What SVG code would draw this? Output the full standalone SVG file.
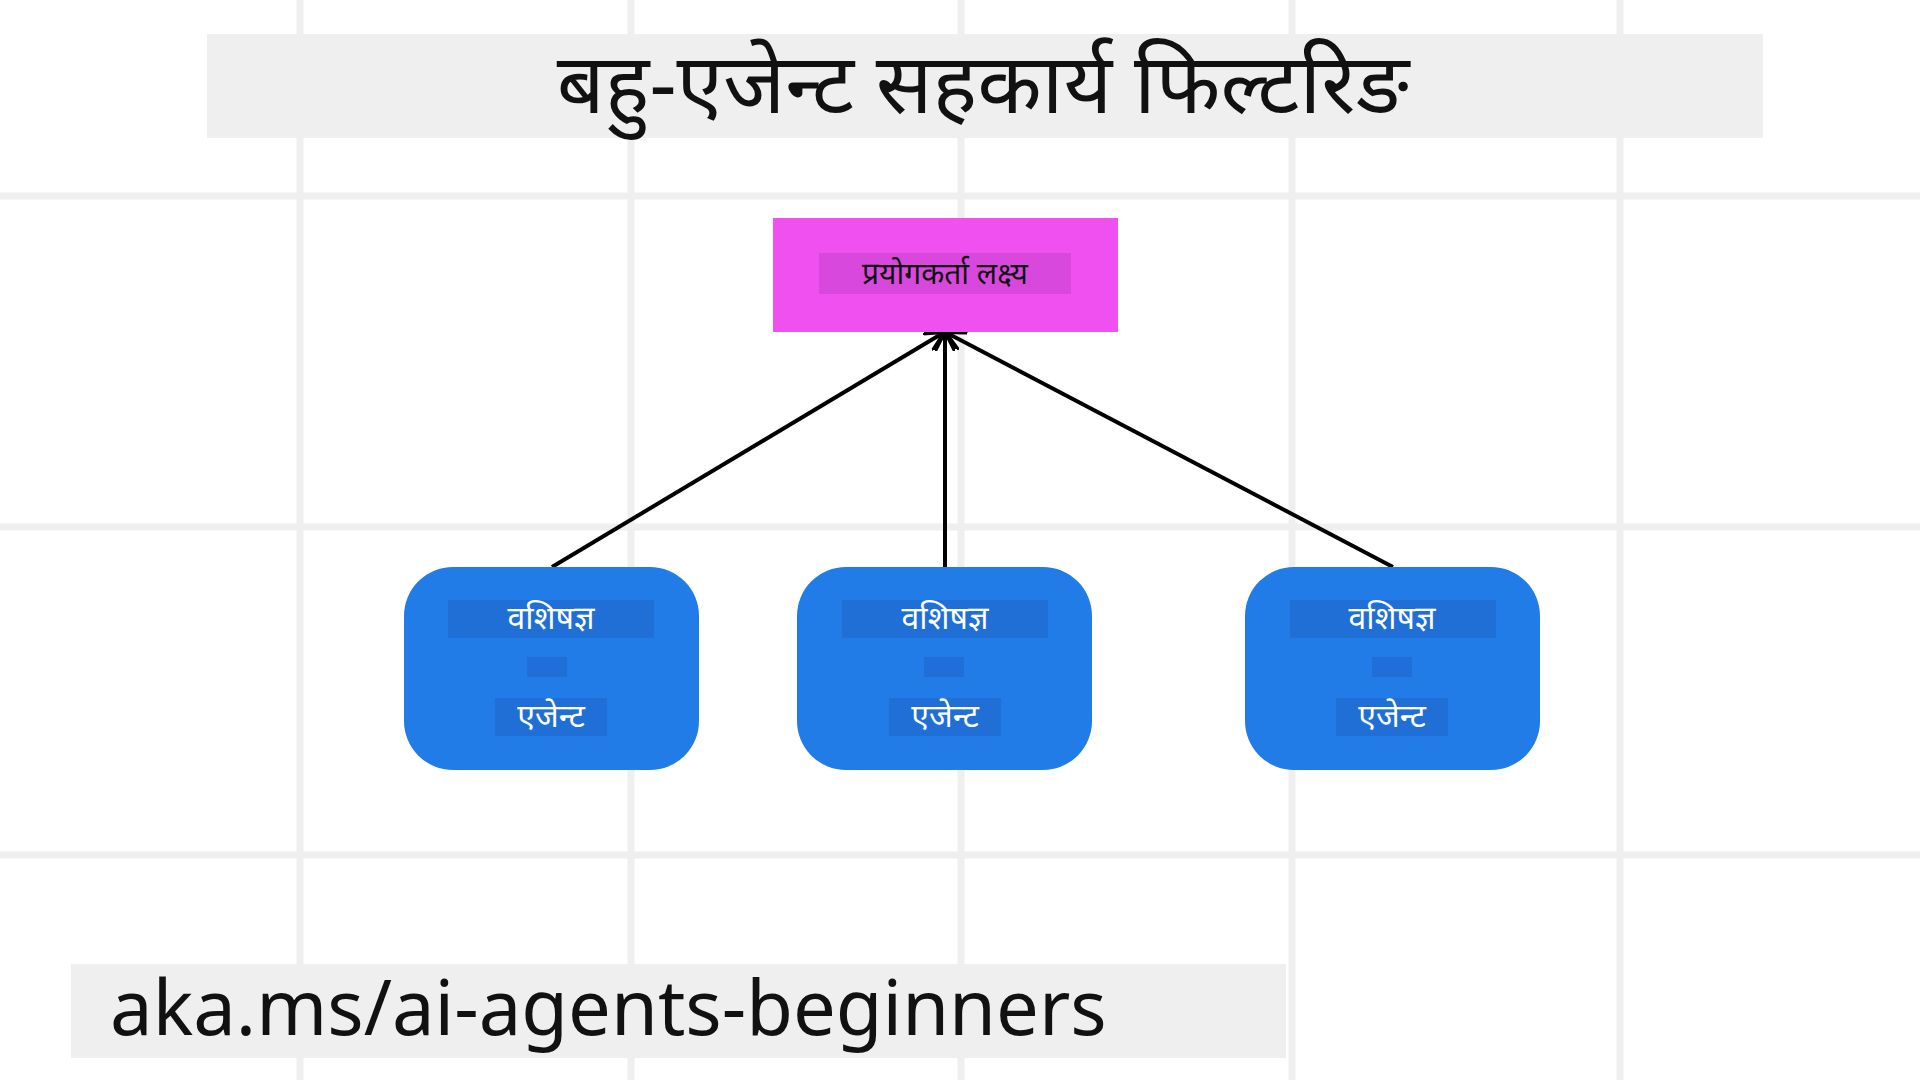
<svg xmlns="http://www.w3.org/2000/svg" width="1920" height="1080" viewBox="0 0 1920 1080">
<defs>
<style>
.g{stroke:#efefef;stroke-width:7}
.t{font-family:"Noto Sans","Noto Sans Devanagari",sans-serif}
.node{fill:#217ce8}
.lb{fill:#1f6fd6}
.w{fill:#fff;font-size:32px}
.c{stroke:#000;stroke-width:4;fill:none;marker-end:url(#ah)}
</style>
<marker id="ah" viewBox="0 0 10 10" refX="9" refY="5" markerWidth="5" markerHeight="5" orient="auto"><path d="M0,0 L10,5 L0,10" fill="none" stroke="#000" stroke-width="2"/></marker>
</defs>
<rect width="1920" height="1080" fill="#fff"/>
<g id="grid">
<line class="g" x1="300" y1="0" x2="300" y2="1080"/>
<line class="g" x1="631" y1="0" x2="631" y2="1080"/>
<line class="g" x1="961" y1="0" x2="961" y2="1080"/>
<line class="g" x1="1292" y1="0" x2="1292" y2="1080"/>
<line class="g" x1="1620" y1="0" x2="1620" y2="1080"/>
<line class="g" x1="0" y1="196" x2="1920" y2="196"/>
<line class="g" x1="0" y1="527" x2="1920" y2="527"/>
<line class="g" x1="0" y1="855" x2="1920" y2="855"/>
</g>
<g id="title">
<rect x="207" y="34" width="1556" height="104" fill="#efefef"/>
<text class="t" x="983" y="113" font-size="84" text-anchor="middle" fill="#111">बहु-एजेन्ट सहकार्य फिल्टरिङ</text>
</g>
<g id="connectors">
<line class="c" x1="552" y1="567" x2="943" y2="333"/>
<line class="c" x1="945" y1="567" x2="945" y2="333"/>
<line class="c" x1="1393" y1="567" x2="947" y2="333"/>
</g>
<g id="goal">
<rect x="773" y="218" width="345" height="114" fill="#f050f0"/>
<rect x="819" y="253" width="252" height="41" fill="#d848dc"/>
<text class="t" x="945" y="284" font-size="30" text-anchor="middle" fill="#111">प्रयोगकर्ता लक्ष्य</text>
</g>
<g id="agent1">
<rect class="node" x="404" y="567" width="295" height="203" rx="49"/>
<rect class="lb" x="448" y="600" width="206" height="38"/>
<rect class="lb" x="527" y="657" width="40" height="20"/>
<rect class="lb" x="495" y="698" width="112" height="38"/>
<text class="t w" x="551" y="629" text-anchor="middle">वशिषज्ञ</text>
<text class="t w" x="551" y="727" text-anchor="middle">एजेन्ट</text>
</g>
<g id="agent2">
<rect class="node" x="797" y="567" width="295" height="203" rx="49"/>
<rect class="lb" x="842" y="600" width="206" height="38"/>
<rect class="lb" x="924" y="657" width="40" height="20"/>
<rect class="lb" x="889" y="698" width="112" height="38"/>
<text class="t w" x="945" y="629" text-anchor="middle">वशिषज्ञ</text>
<text class="t w" x="945" y="727" text-anchor="middle">एजेन्ट</text>
</g>
<g id="agent3">
<rect class="node" x="1245" y="567" width="295" height="203" rx="49"/>
<rect class="lb" x="1290" y="600" width="206" height="38"/>
<rect class="lb" x="1372" y="657" width="40" height="20"/>
<rect class="lb" x="1336" y="698" width="112" height="38"/>
<text class="t w" x="1392" y="629" text-anchor="middle">वशिषज्ञ</text>
<text class="t w" x="1392" y="727" text-anchor="middle">एजेन्ट</text>
</g>
<g id="footer">
<rect x="71" y="964" width="1215" height="94" fill="#efefef"/>
<text class="t" x="110" y="1035" font-size="76" fill="#111">aka.ms/ai-agents-beginners</text>
</g>
</svg>
